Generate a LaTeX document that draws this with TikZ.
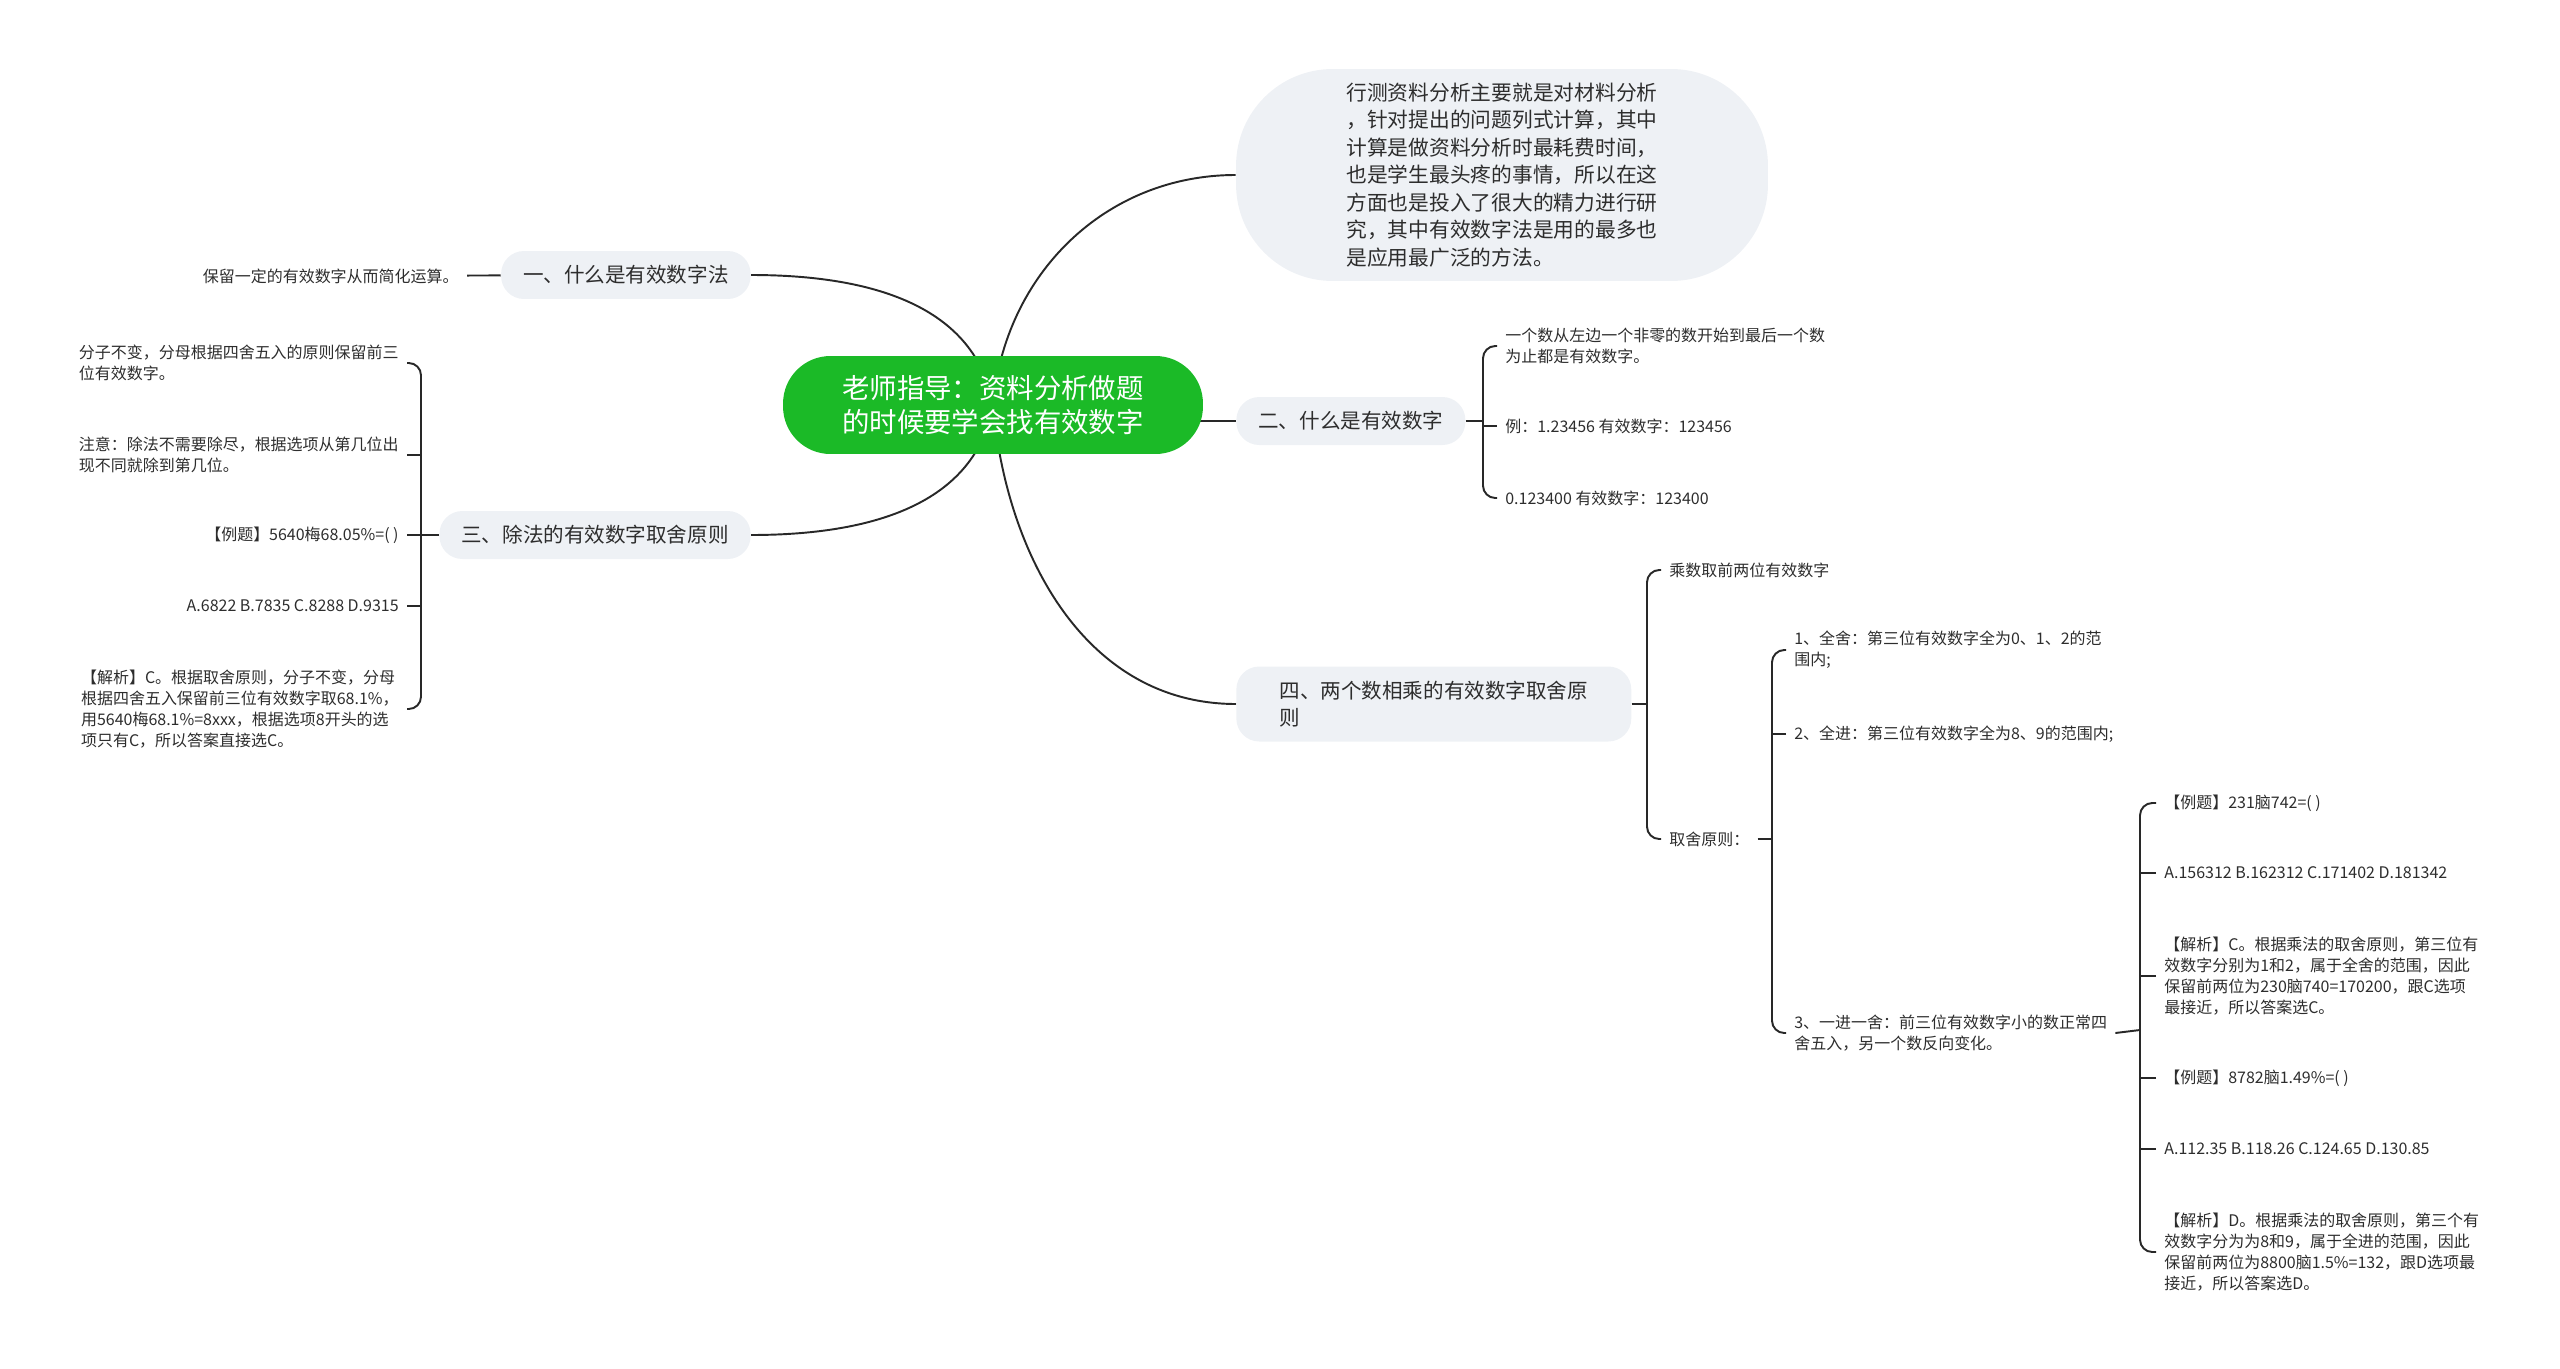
\documentclass[tikz,border=0pt]{standalone}
\usepackage{fontspec}
\setmainfont{Noto Sans CJK SC}
\usetikzlibrary{positioning, backgrounds}
\definecolor{mmgreen}{RGB}{27,186,39}
\definecolor{mmgray}{RGB}{238,241,245}
\definecolor{mmtext}{RGB}{45,45,45}
\definecolor{mmline}{RGB}{40,40,40}

\begin{document}
\begin{tikzpicture}[
    x=0.02cm, y=0.02cm,
    %% ── node styles ──────────────────────────────────────────────────────────
    rootnode/.style={
        rounded corners=27pt, fill=mmgreen, text=white,
        minimum width=8.4cm, minimum height=1.96cm, inner sep=0pt,
        align=center, font=\fontsize{15.6}{19.6}\selectfont
    },
    bubble/.style={
        rounded corners=55pt, fill=mmgray, text=mmtext,
        minimum width=10.64cm, minimum height=4.24cm, inner sep=0pt,
        align=left, font=\fontsize{11.8}{15.6}\selectfont
    },
    topic/.style={
        rounded corners=13pt, fill=mmgray, text=mmtext,
        minimum height=0.96cm, inner xsep=0.44cm, inner ysep=0pt,
        align=left, font=\fontsize{11.7}{15}\selectfont
    },
    leaf/.style={
        text=mmtext, inner xsep=0.16cm, inner ysep=1pt,
        align=left, font=\fontsize{9.1}{12}\selectfont
    },
    %% ── edge styles ──────────────────────────────────────────────────────────
    link/.style={draw=mmline, line width=1.1pt},
    bracelink/.style={link, rounded corners=7pt},
]
\useasboundingbox (0,0) rectangle (2560,-1369);

%% ── Root, intro bubble and the four topics ──────────────────────────────────
\node[rootnode] (root) at (993,-405) {老师指导：资料分析做题\\的时候要学会找有效数字};
\node[bubble] (intro) at (1502,-175) {行测资料分析主要就是对材料分析\\，针对提出的问题列式计算，其中\\计算是做资料分析时最耗费时间，\\也是学生最头疼的事情，所以在这\\方面也是投入了很大的精力进行研\\究，其中有效数字法是用的最多也\\是应用最广泛的方法。};

\node[topic, anchor=east] (t1) at (751,-275) {一、什么是有效数字法};
\node[topic, anchor=west] (t2) at (1236,-421) {二、什么是有效数字};
\node[topic, anchor=east] (t3) at (751,-535) {三、除法的有效数字取舍原则};
\node[topic, anchor=west, minimum width=7.9cm, minimum height=1.5cm] (t4)
    at (1236,-704) {四、两个数相乘的有效数字取舍原\\则};

%% ── root connectors (behind the nodes) ──────────────────────────────────────
\begin{scope}[on background layer]
  \draw[link] (root.center) to[out=100, in=0] (t1.east);
  \draw[link] (root.center) to[out=85, in=180] (intro.west);
  \draw[link] (root.center |- t2.west) -- (t2.west);
  \draw[link] (root.center) to[out=-100, in=0] (t3.east);
  \draw[link] (root.center) to[out=-85, in=180] (t4.west);
\end{scope}

%% ─────────────────────────────────────────────────────────────────────────────
%% 一、 leaf
%% ─────────────────────────────────────────────────────────────────────────────
\node[leaf, anchor=east] (l1a) at (467,-276) {保留一定的有效数字从而简化运算。};
\draw[link] (l1a) -- (t1);

%% ─────────────────────────────────────────────────────────────────────────────
%% 二、 leaves
%% ─────────────────────────────────────────────────────────────────────────────
\node[leaf, anchor=west] (l2a) at (1497,-346) {一个数从左边一个非零的数开始到最后一个数\\为止都是有效数字。};
\node[leaf, anchor=west] (l2b) at (1497,-426) {例：1.23456 有效数字：123456};
\node[leaf, anchor=west] (l2c) at (1497,-498) {0.123400 有效数字：123400};

\coordinate (b2) at (1483,-421);
\draw[bracelink] (l2a.west) -| (b2) |- (l2c.west);
\draw[link] (t2.east) -- (b2);
\draw[link] (l2b.west) -- (l2b.west -| b2);

%% ─────────────────────────────────────────────────────────────────────────────
%% 三、 leaves (left side)
%% ─────────────────────────────────────────────────────────────────────────────
\node[leaf, anchor=east] (l3a) at (407,-363) {分子不变，分母根据四舍五入的原则保留前三\\位有效数字。};
\node[leaf, anchor=east] (l3b) at (407,-455) {注意：除法不需要除尽，根据选项从第几位出\\现不同就除到第几位。};
\node[leaf, anchor=east] (l3c) at (407,-535) {【例题】5640梅68.05\%=( )};
\node[leaf, anchor=east] (l3d) at (407,-606) {A.6822 B.7835 C.8288 D.9315};
\node[leaf, anchor=east] (l3e) at (407,-709) {【解析】C。根据取舍原则，分子不变，分母\\根据四舍五入保留前三位有效数字取68.1\%，\\用5640梅68.1\%=8xxx，根据选项8开头的选\\项只有C，所以答案直接选C。};

\coordinate (b3) at (421,-535);
\draw[bracelink] (l3a.east) -| (b3) |- (l3e.east);
\draw[link] (t3.west) -- (b3);
\draw[link] (l3b.east) -- (l3b.east -| b3);
\draw[link] (l3c.east) -- (l3c.east -| b3);
\draw[link] (l3d.east) -- (l3d.east -| b3);

%% ─────────────────────────────────────────────────────────────────────────────
%% 四、 children
%% ─────────────────────────────────────────────────────────────────────────────
\node[leaf, anchor=west] (l4a) at (1661,-570) {乘数取前两位有效数字};
\node[leaf, anchor=west] (l4b) at (1661,-839) {取舍原则：};

\coordinate (b4) at (1647,-704);
\draw[bracelink] (l4a.west) -| (b4) |- (l4b.west);
\draw[link] (t4.east) -- (b4);

%% 取舍原则 → 1、 2、 3、
\node[leaf, anchor=west] (l5a) at (1786,-650) {1、全舍：第三位有效数字全为0、1、2的范\\围内;};
\node[leaf, anchor=west] (l5b) at (1786,-734) {2、全进：第三位有效数字全为8、9的范围内;};
\node[leaf, anchor=west] (l5c) at (1786,-1033) {3、一进一舍：前三位有效数字小的数正常四\\舍五入，另一个数反向变化。};

\coordinate (b5) at (1772,-839);
\draw[bracelink] (l5a.west) -| (b5) |- (l5c.west);
\draw[link] (l4b.east) -- (b5);
\draw[link] (l5b.west) -- (l5b.west -| b5);

%% 3、 → worked examples
\node[leaf, anchor=west] (l6a) at (2156,-803) {【例题】231脑742=( )};
\node[leaf, anchor=west] (l6b) at (2156,-873) {A.156312 B.162312 C.171402 D.181342};
\node[leaf, anchor=west] (l6c) at (2156,-976) {【解析】C。根据乘法的取舍原则，第三位有\\效数字分别为1和2，属于全舍的范围，因此\\保留前两位为230脑740=170200，跟C选项\\最接近，所以答案选C。};
\node[leaf, anchor=west] (l6d) at (2156,-1078) {【例题】8782脑1.49\%=( )};
\node[leaf, anchor=west] (l6e) at (2156,-1149) {A.112.35 B.118.26 C.124.65 D.130.85};
\node[leaf, anchor=west] (l6f) at (2156,-1252) {【解析】D。根据乘法的取舍原则，第三个有\\效数字分为为8和9，属于全进的范围，因此\\保留前两位为8800脑1.5\%=132，跟D选项最\\接近，所以答案选D。};

\coordinate (b6) at (2140,-1030);
\draw[bracelink] (l6a.west) -| (b6) |- (l6f.west);
\draw[link] (l5c.east) -- (b6);
\draw[link] (l6b.west) -- (l6b.west -| b6);
\draw[link] (l6c.west) -- (l6c.west -| b6);
\draw[link] (l6d.west) -- (l6d.west -| b6);
\draw[link] (l6e.west) -- (l6e.west -| b6);

\end{tikzpicture}
\end{document}
